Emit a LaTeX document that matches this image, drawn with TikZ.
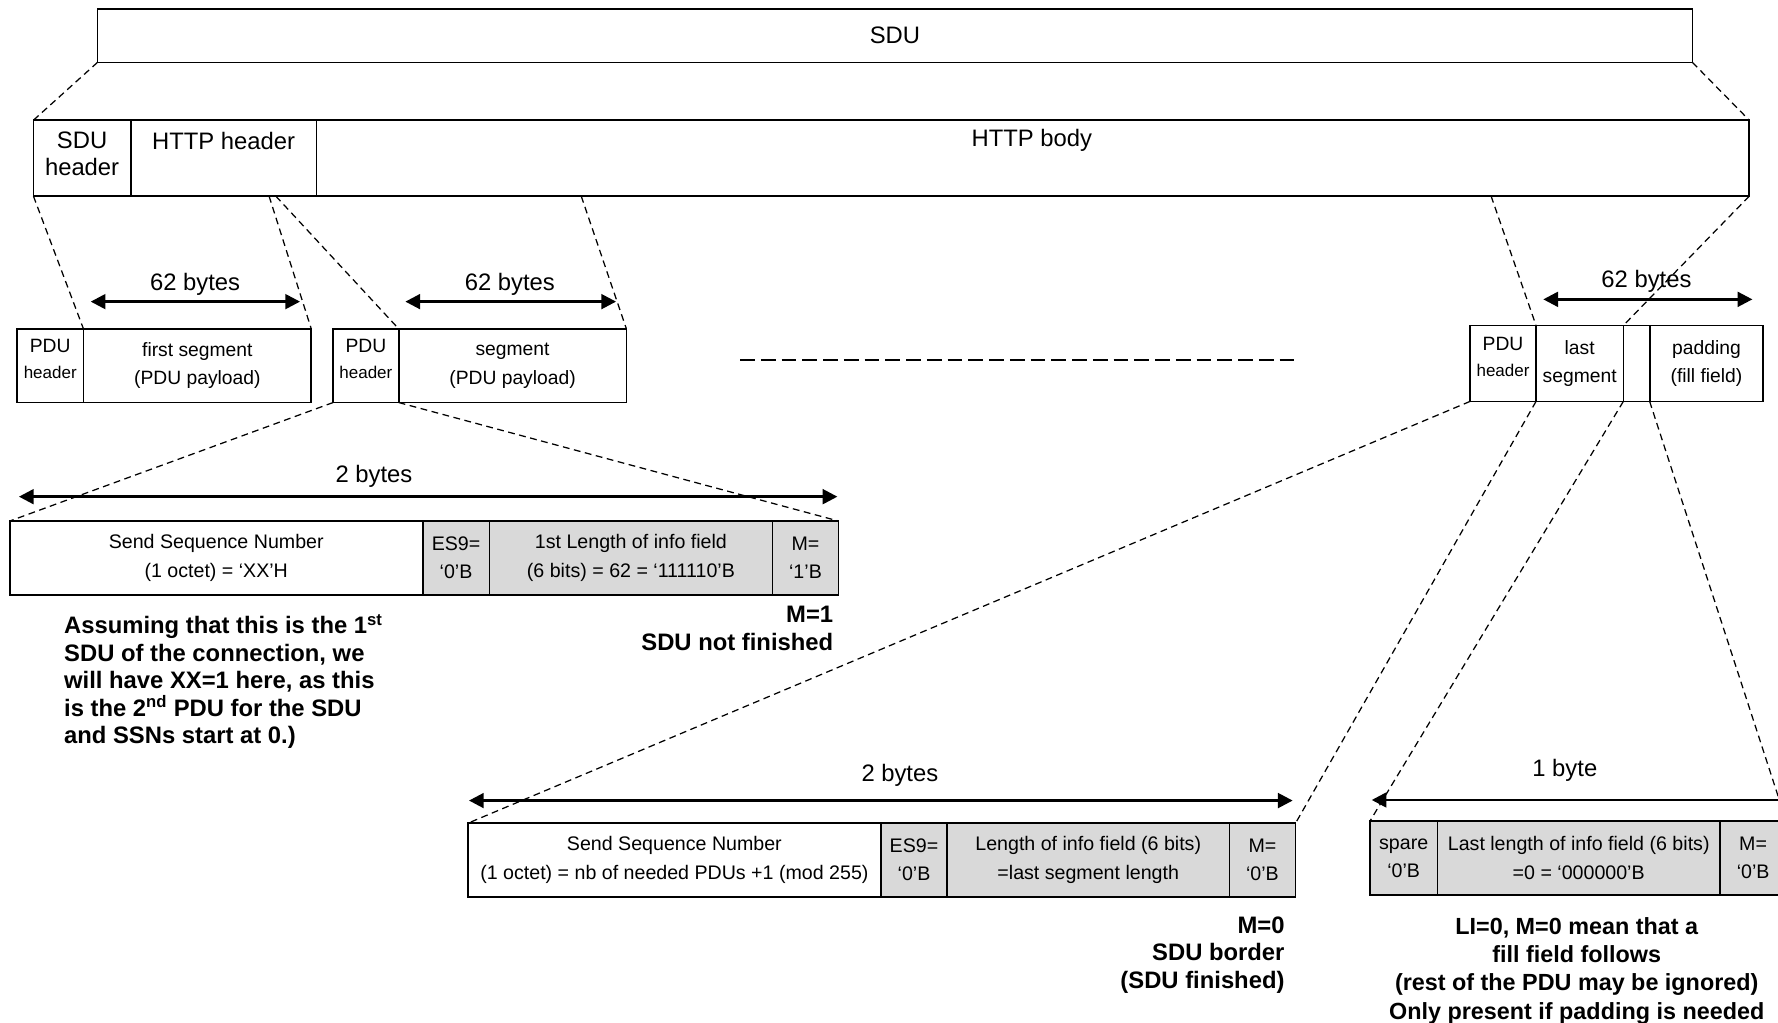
\documentclass[tikz,border=0pt]{standalone}
\usepackage{fontspec}
\setmainfont{Liberation Sans}
\usetikzlibrary{arrows.meta}
\definecolor{cellgray}{RGB}{217,217,217}
\begin{document}
\begin{tikzpicture}[x=1pt,y=-1pt,
  cell/.style={draw, line width=1.5pt, outer sep=0pt, inner sep=0pt, anchor=north west, align=center},
  tcell/.style={cell, font=\fontsize{17.3}{25}\selectfont},
  shaded/.style={tcell, fill=cellgray},
  pcell/.style={cell, font=\fontsize{17}{25}\selectfont},
  hcell/.style={cell, font=\fontsize{17}{23}\selectfont, text depth=12pt},
  dline/.style={line width=1.1pt, dash pattern=on 6pt off 4pt},
  dimarrow/.style={line width=2.3pt, {Triangle[length=13pt,width=13pt]}-{Triangle[length=13pt,width=13pt]}},
  leftarrow/.style={line width=2.3pt, {Triangle[length=13pt,width=13pt]}-},
  biglabel/.style={font=\fontsize{21}{24}\selectfont},
  note/.style={inner sep=0pt, font=\bfseries\fontsize{21}{24.3}\selectfont},
]
\useasboundingbox (0,0) rectangle (1568,902);

% top SDU
\node[cell, minimum width=1406.5pt, minimum height=47pt, biglabel] (sdu) at (86,8) {SDU};

% second row
\node[cell, minimum width=85.9pt, minimum height=67pt] (sduh) at (29.5,106) {};
\node[cell, minimum width=163.7pt, minimum height=67pt] (httph) at (115.4,106) {};
\node[cell, minimum width=1263.5pt, minimum height=67pt] (body) at (279.1,106) {};
\node[biglabel, align=center] (tsduh) at (72.4,135.5) {SDU\\header};
\node[biglabel] (thttph) at (197.2,124) {HTTP header};
\node[biglabel] (tbody) at (910,124) {HTTP body};

% PDU 1
\node[hcell, minimum width=58.6pt, minimum height=65pt] (p1h) at (15,290) {PDU\\\fontsize{15}{23}\selectfont header};
\node[pcell, minimum width=200.9pt, minimum height=65pt] (p1s) at (73.6,290) {first segment\\(PDU payload)};
% PDU 2
\node[hcell, minimum width=57.9pt, minimum height=65pt] (p2h) at (293.7,290) {PDU\\\fontsize{15}{23}\selectfont header};
\node[pcell, minimum width=200.8pt, minimum height=65pt] (p2s) at (351.6,290) {segment\\(PDU payload)};
% last PDU
\node[hcell, minimum width=58.2pt, minimum height=67pt] (p3h) at (1296.4,287) {PDU\\\fontsize{15}{23}\selectfont header};
\node[pcell, minimum width=77pt, minimum height=67pt] (p3l) at (1354.6,287) {last\\segment};
\node[pcell, minimum width=23.2pt, minimum height=67pt] (p3b) at (1431.6,287) {};
\node[pcell, minimum width=100.2pt, minimum height=67pt] (p3p) at (1454.8,287) {padding\\(fill field)};

% table 1
\node[tcell, minimum width=364.2pt, minimum height=65.2pt] (t1a) at (8.6,459.5) {Send Sequence Number\\(1 octet) = ‘XX’H};
\node[shaded, minimum width=58.8pt, minimum height=65.2pt] (t1b) at (372.8,459.5) {ES9=\\‘0’B};
\node[shaded, minimum width=249.6pt, minimum height=65.2pt] (t1c) at (431.6,459.5) {1st Length of info field\\(6 bits) = 62 = ‘111110’B};
\node[shaded, minimum width=58.3pt, minimum height=65.2pt] (t1d) at (681.2,459.5) {M=\\‘1’B};

% table 2
\node[tcell, minimum width=364.3pt, minimum height=64.8pt] (t2a) at (412.6,726) {Send Sequence Number\\(1 octet) = nb of needed PDUs +1 (mod 255)};
\node[shaded, minimum width=58.3pt, minimum height=64.8pt] (t2b) at (776.9,726) {ES9=\\‘0’B};
\node[shaded, minimum width=249pt, minimum height=64.8pt] (t2c) at (835.2,726) {Length of info field (6 bits)\\=last segment length};
\node[shaded, minimum width=58.3pt, minimum height=64.8pt] (t2d) at (1084.2,726) {M=\\‘0’B};

% table 3
\node[shaded, minimum width=59.4pt, minimum height=65.3pt] (t3a) at (1208.2,724) {spare\\‘0’B};
\node[shaded, minimum width=249.3pt, minimum height=65.3pt] (t3b) at (1267.6,724) {Last length of info field (6 bits)\\=0 = ‘000000’B};
\node[shaded, minimum width=58.3pt, minimum height=65.3pt] (t3c) at (1516.9,724) {M=\\‘0’B};

% dimension arrows
\coordinate (a1l) at (80,266); \coordinate (a1r) at (264.6,266);
\draw[dimarrow] (a1l) -- (a1r);
\node[biglabel] (l1) at (172,250.6) {62 bytes};
\coordinate (a2l) at (357.5,266); \coordinate (a2r) at (543.3,266);
\draw[dimarrow] (a2l) -- (a2r);
\node[biglabel] (l2) at (449.6,250.6) {62 bytes};
\coordinate (a3l) at (1361,264); \coordinate (a3r) at (1545.4,264);
\draw[dimarrow] (a3l) -- (a3r);
\node[biglabel] (l3) at (1452,248.4) {62 bytes};
\coordinate (a4l) at (16.7,438); \coordinate (a4r) at (738.5,438);
\draw[dimarrow] (a4l) -- (a4r);
\node[biglabel] (l4) at (329.8,420.4) {2 bytes};
\coordinate (a5l) at (413.6,706); \coordinate (a5r) at (1140,706);
\draw[dimarrow] (a5l) -- (a5r);
\node[biglabel] (l5) at (793.6,683.5) {2 bytes};
\coordinate (a6l) at (1209.7,705.5); \coordinate (a6r) at (1568,705.5);
\draw[leftarrow] (a6l) -- (a6r);
\node[biglabel] (l6) at (1380,679) {1 byte};

% dashed expansion lines
\coordinate (hh1) at (237.3,173);
\coordinate (hh2) at (243.3,173);
\coordinate (hb1) at (512.6,173);
\coordinate (hb2) at (1315,173);
\draw[dline] (sdu.south west) -- (sduh.north west);
\draw[dline] (sdu.south east) -- (body.north east);
\draw[dline] (sduh.south west) -- (p1h.north east);
\draw[dline] (hh1) -- (p1s.north east);
\draw[dline] (hh2) -- (p2h.north east);
\draw[dline] (hb1) -- (p2s.north east);
\draw[dline] (hb2) -- (p3h.north east);
\draw[dline] (body.south east) -- (p3l.north east);
\draw[dline] (p2h.south west) -- (t1a.north west);
\draw[dline] (p2h.south east) -- (t1d.north east);
\draw[dline] (p3h.south west) -- (t2a.north west);
\draw[dline] (p3h.south east) -- (t2d.north east);
\draw[dline] (p3l.south east) -- (t3a.north west);
\draw[dline] (p3b.south east) -- (t3c.north east);

% middle ellipsis line
\coordinate (m1) at (652.6,317.5); \coordinate (m2) at (1143,317.5);
\draw[line width=1.5pt, dash pattern=on 13pt off 5.3pt] (m1) -- (m2);

% notes
\node[note, align=left, anchor=west] (n1) at (56.4,601) {Assuming that this is the 1\textsuperscript{st}\\SDU of the connection, we\\will have XX=1 here, as this\\is the 2\textsuperscript{nd} PDU for the SDU\\and SSNs start at 0.)};
\node[note, align=right, anchor=east] (n2) at (735,554) {M=1\\SDU not finished};
\node[note, align=right, anchor=east] (n3) at (1133,842) {M=0\\SDU border\\(SDU finished)};
\node[note, align=center, font=\bfseries\fontsize{20.6}{25}\selectfont] (n4) at (1390.5,856) {LI=0, M=0 mean that a\\fill field follows\\(rest of the PDU may be ignored)\\Only present if padding is needed};
\end{tikzpicture}
\end{document}
